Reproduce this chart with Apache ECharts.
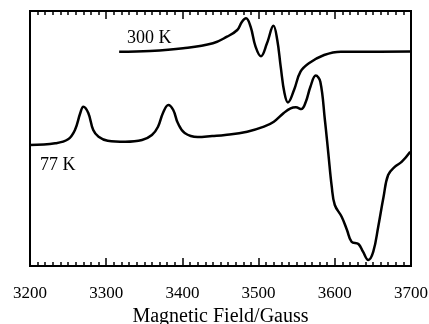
<!DOCTYPE html>
<html>
<head>
<meta charset="utf-8">
<script src="https://cdn.jsdelivr.net/npm/echarts@6/dist/echarts.min.js"></script>
<style>html,body{margin:0;padding:0;background:#fff}#c{width:429px;height:324px}</style>
</head>
<body>
<div id="c"></div>
<script>
// Magnetic field (Gauss) and signal (arbitrary units) for 77 K
var field77 = [3200,3233,3250,3259,3266,3270,3276.5,3283,3290,3302,3325,3347,3360,3368,3374.5,3381.5,3388,3394,3403,3420,3439,3456,3485,3507,3520,3533,3542,3549,3556,3562,3568,3575,3581,3587,3591.5,3596,3600,3609,3616,3622,3631,3637,3644,3650.5,3657,3664,3670,3679,3688,3699];
var signal77 = [121,122.7,126.7,136,153,159.3,153,136,129.3,125.3,124.3,126,131,139.3,153,161,156,143,133,129,130,131,134.3,139.3,144.3,153,157.7,158.7,157,164.3,179.3,190.5,184.3,146,112.7,79.3,61,49.3,36,24.3,22,14.3,6,14.3,39.3,69.3,91,99.3,104.3,114.3];
// 300 K
var field300 = [3317,3357.5,3401,3440,3458.5,3472,3478,3483.5,3489.5,3496,3503,3511,3519.5,3524.5,3529,3534,3538.5,3546.5,3555,3566,3586,3608,3638,3700];
var signal300 = [214.3,215,217.7,222.7,229.3,236,244,247.7,239.3,219.3,209.7,222.7,240.2,226,199.3,172.7,163.5,176,194.3,202.7,211,214.3,214.3,214.5];
var xTicks = [3200,3300,3400,3500,3600,3700];
var seriesNames = ['300 K','77 K'];

function zip(a,b){return a.map(function(v,i){return [v,b[i]];});}
var FONT = 'Liberation Serif';
var chart = echarts.init(document.getElementById('c'));
var axisCommon = {
  type:'value', min:xTicks[0], max:xTicks[xTicks.length-1], interval:100,
  axisLine:{show:true,lineStyle:{color:'#000',width:2}},
  axisTick:{show:true,inside:true,length:8,lineStyle:{color:'#000',width:1.5}},
  minorTick:{show:true,splitNumber:10,length:4,lineStyle:{color:'#000',width:1.5}},
  splitLine:{show:false}
};
chart.setOption({
  animation:false,
  backgroundColor:'#fff',
  grid:{left:30,right:18,top:11,bottom:58,outerBoundsMode:'none',containLabel:false,
        show:true,borderColor:'#000',borderWidth:2,backgroundColor:'transparent'},
  xAxis:[
    Object.assign({}, axisCommon, {position:'bottom',
      axisLabel:{show:true,color:'#000',fontFamily:FONT,fontSize:17,margin:19,
        formatter:function(v){return String(v);}},
      name:'Magnetic Field/Gauss',nameLocation:'middle',nameGap:31,
      nameTextStyle:{color:'#000',fontFamily:FONT,fontSize:20}}),
    Object.assign({}, axisCommon, {position:'top',axisLabel:{show:false}})
  ],
  yAxis:{type:'value',min:0,max:255,show:false},
  series:[
    {name:seriesNames[0],type:'line',data:zip(field300,signal300),showSymbol:false,smooth:0.4,
     lineStyle:{color:'#000',width:2.5},itemStyle:{color:'#000'}},
    {name:seriesNames[1],type:'line',data:zip(field77,signal77),showSymbol:false,smooth:0.4,
     lineStyle:{color:'#000',width:2.5},itemStyle:{color:'#000'}}
  ],
  graphic:[
    {type:'text',left:127,top:29,style:{text:seriesNames[0],font:'18px "Liberation Serif"',fill:'#000'}},
    {type:'text',left:40,top:156,style:{text:seriesNames[1],font:'18px "Liberation Serif"',fill:'#000'}}
  ]
});
</script>
</body>
</html>
